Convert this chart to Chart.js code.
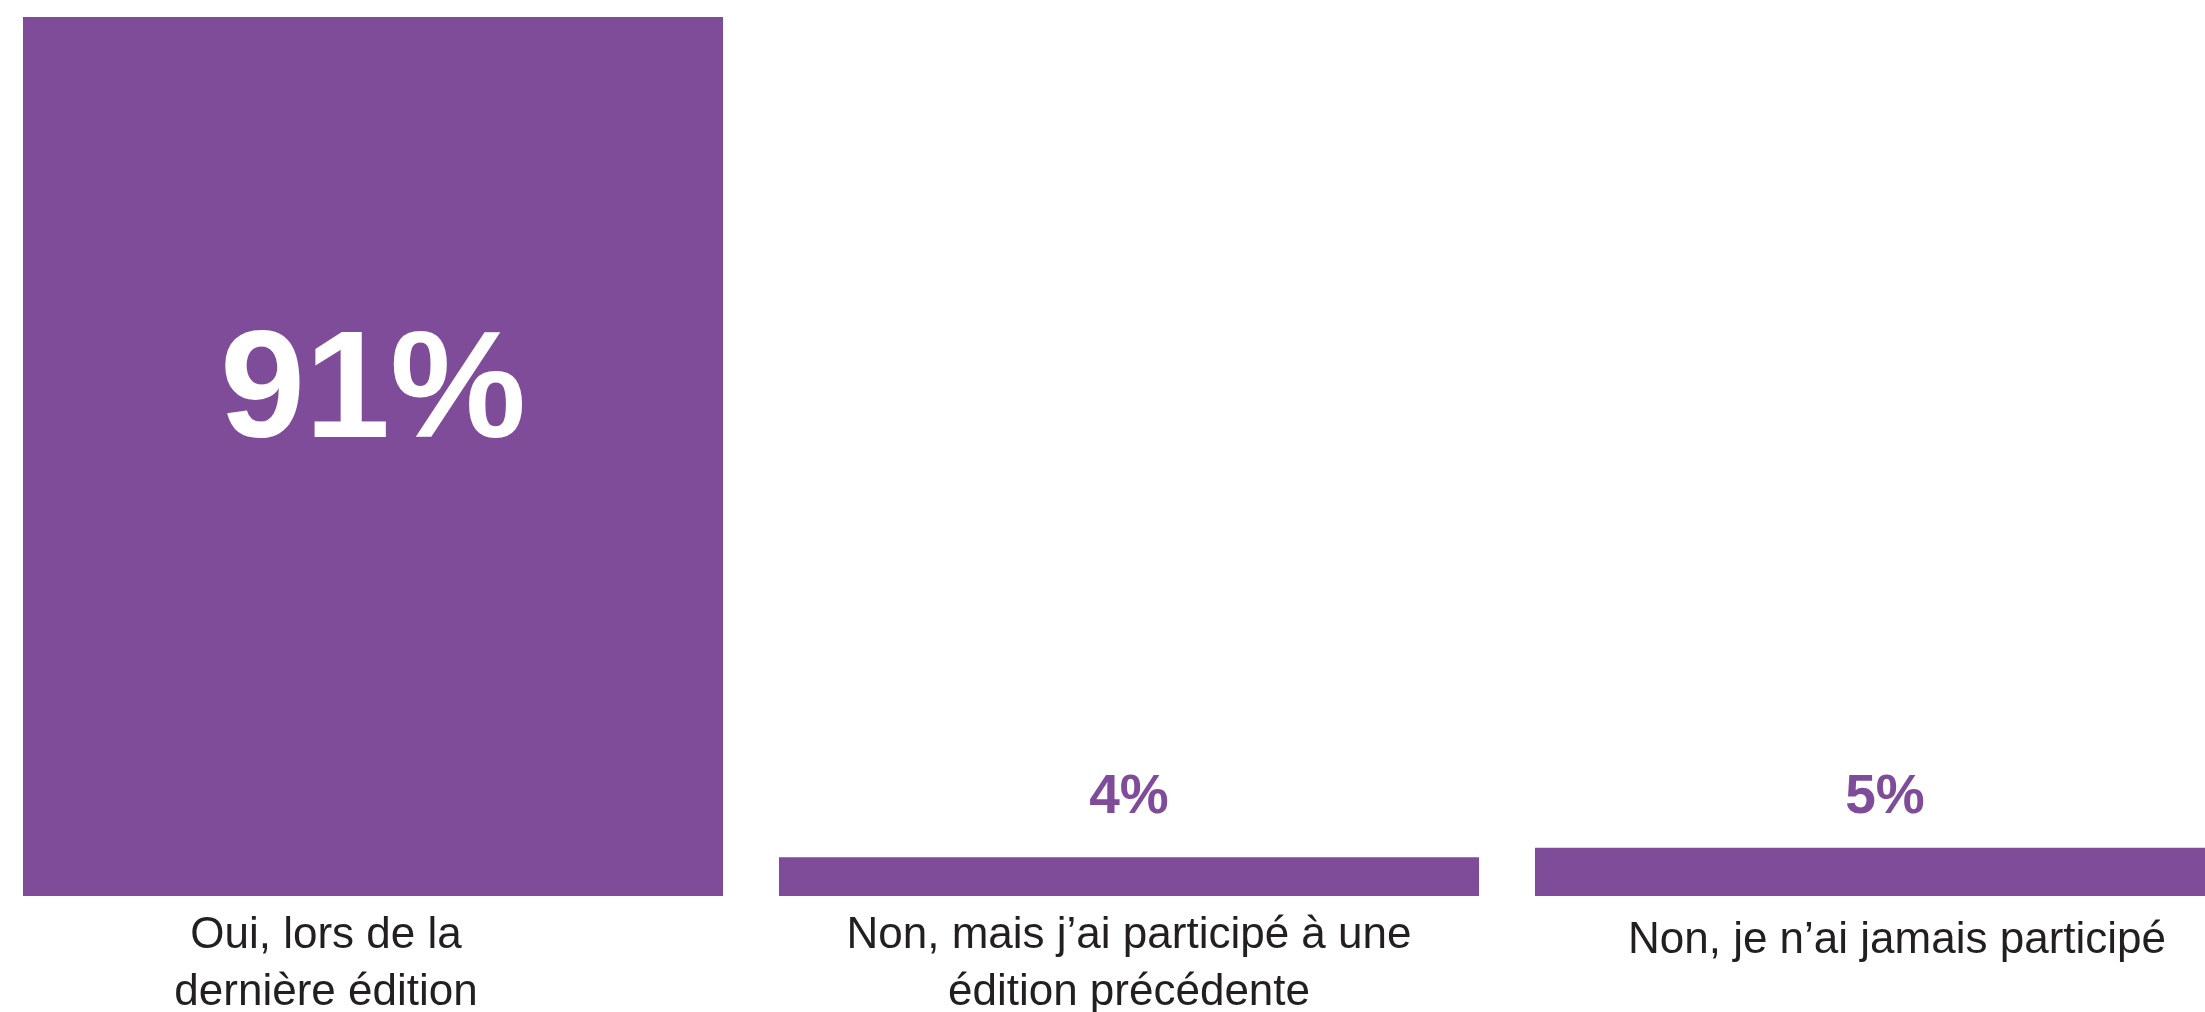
<!DOCTYPE html>
<html>
<head>
<meta charset="utf-8">
<script src="https://cdn.jsdelivr.net/npm/chart.js@4/dist/chart.umd.min.js"></script>
<style>
  html, body { margin: 0; padding: 0; background: #ffffff; overflow: hidden; }
  #wrap { position: absolute; left: -5px; top: 0; width: 2268px; height: 1012px; overflow: hidden; }
</style>
</head>
<body>
<div id="wrap"><canvas id="chart" width="2268" height="1012"></canvas></div>
<script>
var categories = [
    ['Oui, lors de la', 'dernière édition'],
    ['Non, mais j\u2019ai participé à une', 'édition précédente'],
    ['Non, je n\u2019ai jamais participé']
];
var percents = [91, 4, 5];
var barColor = '#7f4c9a';
var textColor = '#231f20';
var fontFamily = '"Liberation Sans", Arial, sans-serif';

// percent labels: inside the tall bar, above the short ones
var valueLabels = {
    id: 'valueLabels',
    afterDatasetsDraw: function (chart) {
        var ctx = chart.ctx;
        var meta = chart.getDatasetMeta(0);
        var base = chart.scales.y.getPixelForValue(0);
        ctx.save();
        ctx.textAlign = 'center';
        ctx.textBaseline = 'alphabetic';
        meta.data.forEach(function (bar, i) {
            var v = percents[i];
            if (v > 50) {
                ctx.fillStyle = '#ffffff';
                ctx.font = 'bold 153px ' + fontFamily;
                ctx.fillText(v + '%', bar.x, bar.y + (bar.base - bar.y) * 0.478);
            } else {
                ctx.fillStyle = barColor;
                ctx.font = 'bold 55px ' + fontFamily;
                ctx.fillText(v + '%', bar.x, base - 83);
            }
        });
        ctx.restore();
    }
};

// category labels under the bars (the text boxes are not quite centred in the original)
var categoryLabels = {
    id: 'categoryLabels',
    afterDraw: function (chart) {
        var ctx = chart.ctx;
        var xs = chart.scales.x;
        var bottom = chart.chartArea.bottom;
        var shiftX = [-47, 0, 12];
        var shiftY = [0, 0, 5];
        ctx.save();
        ctx.fillStyle = textColor;
        ctx.font = '44px ' + fontFamily;
        ctx.textAlign = 'center';
        ctx.textBaseline = 'alphabetic';
        categories.forEach(function (lines, i) {
            var x = xs.getPixelForValue(i) + shiftX[i];
            lines.forEach(function (line, j) {
                ctx.fillText(line, x, bottom + 52 + shiftY[i] + j * 56.5);
            });
        });
        ctx.restore();
    }
};

new Chart(document.getElementById('chart'), {
    type: 'bar',
    data: {
        labels: categories,
        datasets: [{
            data: percents,
            backgroundColor: barColor,
            borderWidth: 0,
            barPercentage: 0.926,
            categoryPercentage: 1
        }]
    },
    options: {
        responsive: false,
        animation: false,
        layout: { padding: { top: 17, left: 0, right: 0, bottom: 116 } },
        plugins: {
            legend: { display: false },
            tooltip: { enabled: false }
        },
        scales: {
            x: {
                display: false
            },
            y: {
                display: false,
                min: 0,
                max: 91
            }
        }
    },
    plugins: [valueLabels, categoryLabels]
});
</script>
</body>
</html>
